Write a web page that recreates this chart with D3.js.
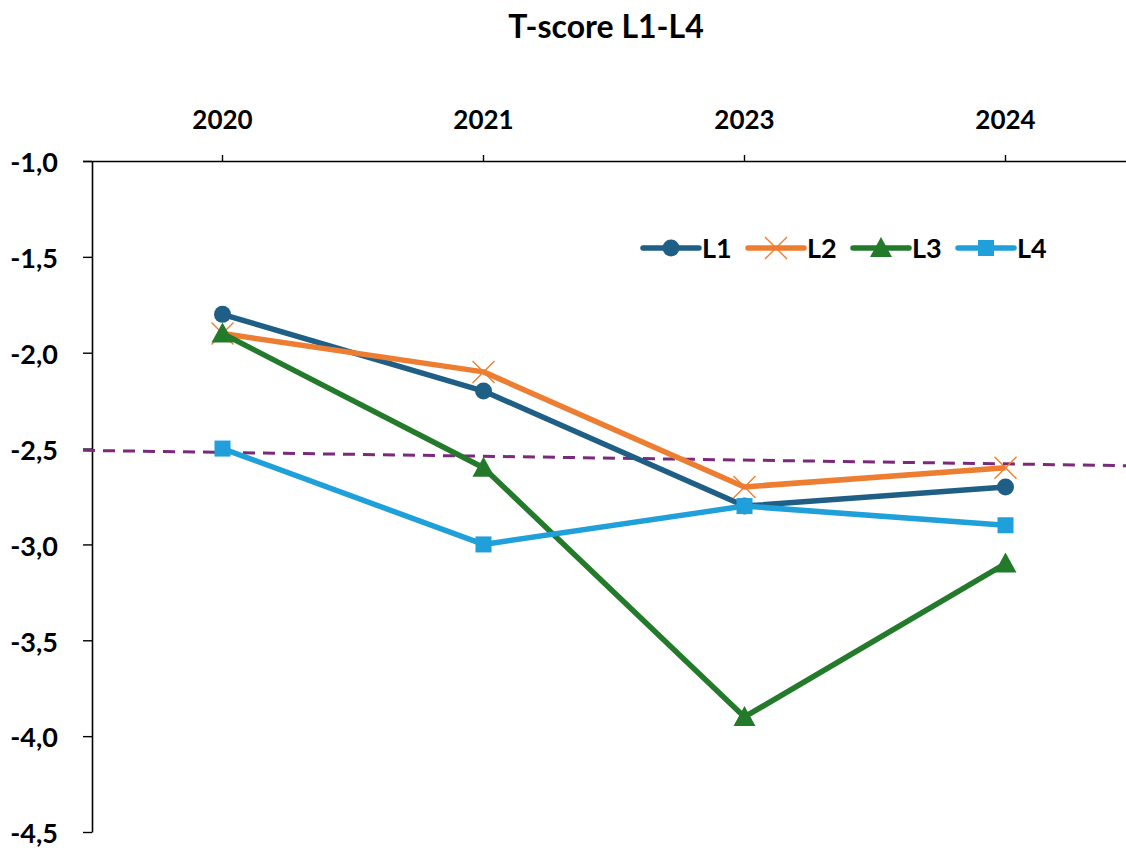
<!DOCTYPE html>
<html>
<head>
<meta charset="utf-8">
<script src="https://cdn.jsdelivr.net/npm/d3@7"></script>
<style>
  html, body { margin: 0; padding: 0; background: #fff; }
  svg { display: block; font-family: Lato, "Open Sans", sans-serif; }
</style>
</head>
<body>
<svg id="chart" width="1126" height="848"></svg>
<script>
// ---- data ----
const years = ["2020", "2021", "2023", "2024"];
const L1 = [-1.8, -2.2, -2.8, -2.7];
const L2 = [-1.9, -2.1, -2.7, -2.6];
const L3 = [-1.9, -2.6, -3.9, -3.1];
const L4 = [-2.5, -3.0, -2.8, -2.9];
const refLine = [-2.52, -2.58]; // dashed reference at first and last category
const yTicks = [-1.0, -1.5, -2.0, -2.5, -3.0, -3.5, -4.0, -4.5];
const seriesNames = ["L1", "L2", "L3", "L4"];
const chartTitle = "T-score L1-L4";

// ---- layout ----
const W = 1126, H = 848;
const mLeft = 92, mTop = 161, mBottom = 832;
const svg = d3.select("#chart");

const x = d3.scaleBand().domain(years).range([mLeft, mLeft + 4 * 261]).padding(0);
const cx = d => x(d) + x.bandwidth() / 2;
const y = d3.scaleLinear().domain([-1.0, -4.5]).range([mTop, mBottom]);

const seriesData = [L1, L2, L3, L4];
const seriesColors = ["#1f5f86", "#ed7d31", "#237a2b", "#20a0da"];
const seriesMarkers = ["circle", "x", "triangle", "square"];
const series = seriesNames.map((n, i) => ({ name: n, values: seriesData[i], color: seriesColors[i], marker: seriesMarkers[i] }));

// title
svg.append("text").attr("x", 606).attr("y", 38).attr("text-anchor", "middle")
  .attr("font-size", 32).attr("font-weight", "bold").attr("fill", "#000").text(chartTitle);

// top axis
const xAxis = svg.append("g").attr("transform", `translate(0,${mTop})`)
  .call(d3.axisTop(x).tickSize(6).tickSizeOuter(0).tickPadding(26));
xAxis.select(".domain").attr("stroke", "#000").attr("stroke-width", 1.6)
  .attr("d", `M${mLeft - 9},0.5H${W}`);
xAxis.selectAll(".tick line").attr("stroke", "#000").attr("stroke-width", 1.4);
xAxis.selectAll(".tick text").attr("font-size", 26).attr("font-weight", "bold")
  .attr("fill", "#000").attr("font-family", "Lato, sans-serif");

// left axis
const yAxis = svg.append("g").attr("transform", `translate(${mLeft},0)`)
  .call(d3.axisLeft(y).tickValues(yTicks).tickSize(9).tickSizeOuter(0).tickPadding(25)
    .tickFormat(d => d3.format(".1f")(d).replace(".", ",").replace("−", "-")));
yAxis.select(".domain").attr("stroke", "#000").attr("stroke-width", 1.6);
yAxis.selectAll(".tick line").attr("stroke", "#000").attr("stroke-width", 1.4);
yAxis.selectAll(".tick text").attr("font-size", 27).attr("font-weight", "bold")
  .attr("fill", "#000").attr("font-family", "Lato, sans-serif").attr("dy", "0.4em");

// dashed reference line (linear through first & last category, extended)
const x0 = cx(years[0]), x1 = cx(years[years.length - 1]);
const slope = (y(refLine[1]) - y(refLine[0])) / (x1 - x0);
const startX = mLeft - 9, endX = W;
svg.append("line")
  .attr("x1", startX).attr("y1", y(refLine[0]) + slope * (startX - x0))
  .attr("x2", endX).attr("y2", y(refLine[0]) + slope * (endX - x0))
  .attr("stroke", "#7b2a7b").attr("stroke-width", 3).attr("stroke-dasharray", "12,8");

// markers
function drawMarker(g, type, color, px, py) {
  if (type === "circle") {
    g.append("circle").attr("cx", px).attr("cy", py).attr("r", 8.5).attr("fill", color);
  } else if (type === "square") {
    g.append("rect").attr("x", px - 8).attr("y", py - 8).attr("width", 16).attr("height", 16).attr("fill", color);
  } else if (type === "triangle") {
    g.append("path").attr("d", `M${px},${py - 11}L${px + 11},${py + 9}L${px - 11},${py + 9}Z`).attr("fill", color);
  } else if (type === "x") {
    const s = 11;
    g.append("path").attr("d", `M${px - s},${py - s}L${px + s},${py + s}M${px - s},${py + s}L${px + s},${py - s}`)
      .attr("stroke", color).attr("stroke-width", 1.4).attr("fill", "none");
  }
}

const line = d3.line().x((d, i) => cx(years[i])).y(d => y(d));
series.forEach(s => {
  const g = svg.append("g");
  g.append("path").datum(s.values).attr("d", line).attr("fill", "none")
    .attr("stroke", s.color).attr("stroke-width", 5.5).attr("stroke-linejoin", "round");
  s.values.forEach((v, i) => drawMarker(g, s.marker, s.color, cx(years[i]), y(v)));
});

// legend
const legendX = [643, 748, 853, 958];
const legY = 248;
series.forEach((s, i) => {
  const g = svg.append("g");
  const lx = legendX[i];
  g.append("line").attr("x1", lx).attr("x2", lx + 56).attr("y1", legY).attr("y2", legY)
    .attr("stroke", s.color).attr("stroke-width", 5.5).attr("stroke-linecap", "round");
  drawMarker(g, s.marker, s.color, lx + 28, legY);
  g.append("text").attr("x", lx + 59).attr("y", legY + 10).attr("font-size", 27)
    .attr("font-weight", "bold").attr("fill", "#000").text(s.name);
});
</script>
</body>
</html>
